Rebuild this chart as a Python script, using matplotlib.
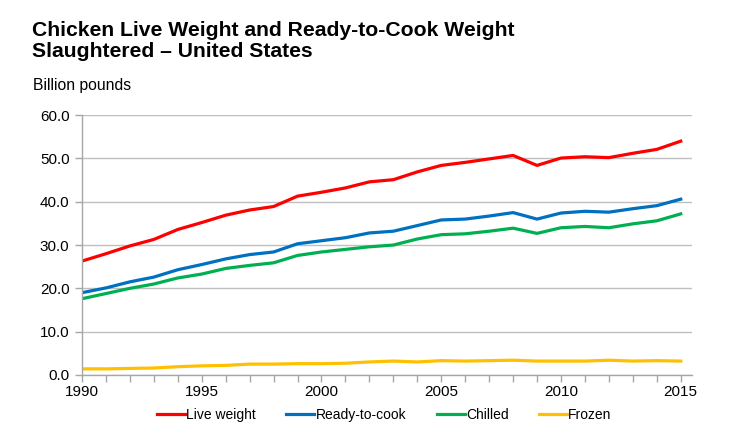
import matplotlib.pyplot as plt
import numpy as np

plt.rcParams['font.family'] = ['Liberation Sans', 'DejaVu Sans']

years = list(range(1990, 2016))
live_weight = [26.3, 28.0, 29.8, 31.3, 33.6, 35.2, 36.9, 38.1, 38.9, 41.3, 42.2, 43.2, 44.6,
               45.1, 46.9, 48.4, 49.1, 49.9, 50.7, 48.4, 50.1, 50.4, 50.2, 51.2, 52.1, 54.0]
ready_to_cook = [19.0, 20.1, 21.5, 22.6, 24.3, 25.5, 26.8, 27.8, 28.4, 30.3, 31.0, 31.7, 32.8,
                 33.2, 34.5, 35.8, 36.0, 36.7, 37.5, 36.0, 37.4, 37.8, 37.6, 38.4, 39.1, 40.6]
chilled = [17.6, 18.8, 20.0, 21.0, 22.4, 23.3, 24.6, 25.3, 25.9, 27.6, 28.4, 29.0, 29.6,
           30.0, 31.4, 32.4, 32.6, 33.2, 33.9, 32.7, 34.0, 34.3, 34.0, 34.9, 35.6, 37.2]
frozen = [1.4, 1.4, 1.5, 1.6, 1.9, 2.1, 2.2, 2.5, 2.5, 2.6, 2.6, 2.7, 3.0,
          3.2, 3.0, 3.3, 3.2, 3.3, 3.4, 3.2, 3.2, 3.2, 3.4, 3.2, 3.3, 3.2]

fig = plt.figure(figsize=(7.32, 4.38), dpi=100)
ax = fig.add_axes([0.112, 0.144, 0.833, 0.593])

ax.plot(years, live_weight, color='#FF0000', lw=2.3, label='Live weight')
ax.plot(years, ready_to_cook, color='#0070C0', lw=2.3, label='Ready-to-cook')
ax.plot(years, chilled, color='#00B050', lw=2.3, label='Chilled')
ax.plot(years, frozen, color='#FFC000', lw=2.3, label='Frozen')

ax.set_ylim(0, 60)
ax.set_xlim(1990, 2015.46)
ax.set_yticks(np.arange(0, 61, 10))
ax.set_yticklabels(['%.1f' % v for v in np.arange(0, 61, 10)], fontsize=11)
ax.set_xticks(range(1990, 2016, 5))
ax.set_xticklabels([str(y) for y in range(1990, 2016, 5)], fontsize=11)
ax.set_xticks(years, minor=True)
ax.tick_params(axis='x', which='both', direction='out', length=5, color='#A6A6A6', width=1, pad=2)
ax.tick_params(axis='y', length=5, color='#A6A6A6', width=1, pad=4)
ax.yaxis.grid(True, color='#BFBFBF', lw=1)
ax.set_axisbelow(True)
for s in ['top', 'right']:
    ax.spines[s].set_visible(False)
for s in ['left', 'bottom']:
    ax.spines[s].set_color('#A6A6A6')
    ax.spines[s].set_linewidth(1)

fig.text(32 / 732, 1 - 21 / 438, 'Chicken Live Weight and Ready-to-Cook Weight\nSlaughtered \u2013 United States',
         fontsize=15.2, fontweight='bold', va='top', ha='left', linespacing=1.12)
fig.text(33 / 732, 1 - 78 / 438, 'Billion pounds', fontsize=11.3, va='top', ha='left')

fig.legend(loc='center', bbox_to_anchor=(0.525, 0.052), ncol=4, frameon=False, fontsize=10,
           handlelength=2.0, handletextpad=0.1, columnspacing=2.2)

fig.savefig('out.png', dpi=100)
